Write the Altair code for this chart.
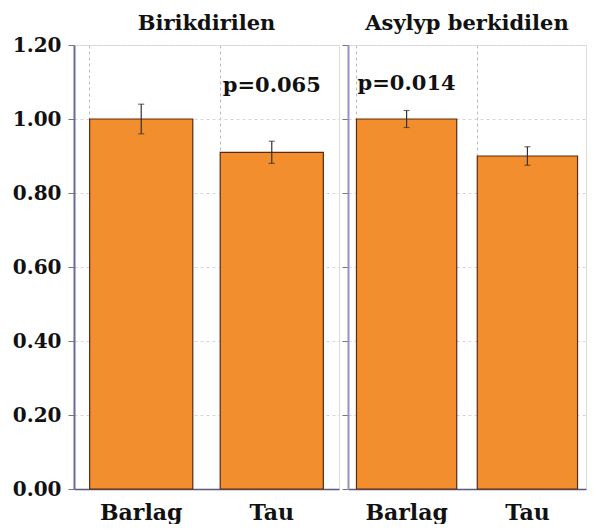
import altair as alt
import pandas as pd

groups = ["Birikdirilen", "Birikdirilen", "Asylyp berkidilen", "Asylyp berkidilen"]
categories = ["Barlag", "Tau", "Barlag", "Tau"]
values = [1.00, 0.91, 1.00, 0.90]
errors = [0.04, 0.03, 0.023, 0.025]

p_groups = ["Birikdirilen", "Asylyp berkidilen"]
p_cats = ["Tau", "Barlag"]
p_texts = ["p=0.065", "p=0.014"]
p_y = [1.09, 1.095]

df = pd.DataFrame({"group": groups, "cat": categories, "value": values, "err": errors})
df["lo"] = df["value"] - df["err"]
df["hi"] = df["value"] + df["err"]
pdf = pd.DataFrame({"group": p_groups, "cat": p_cats, "text": p_texts, "y": p_y})

FONT = "DejaVu Serif"
ORANGE = "#F28E2E"


def panel(g, show_labels, w, pi, po, title_offset):
    d = df[df["group"] == g]
    pd_ = pdf[pdf["group"] == g]
    xenc = alt.X("cat:N", sort=["Barlag", "Tau"],
                 scale=alt.Scale(paddingInner=pi, paddingOuter=po),
                 axis=alt.Axis(title=None, labelAngle=0, ticks=False, labelPadding=13,
                               labelFont=FONT, labelFontSize=22, labelFontWeight="bold",
                               labelColor="#111", domainColor="#5a5a80", domainWidth=1.5,
                               grid=True, bandPosition=0, gridDash=[3, 3],
                               gridColor="#b8b8c8"))
    yscale = alt.Scale(domain=[0, 1.2], nice=False)
    yaxis = alt.Axis(title=None, values=[0, 0.2, 0.4, 0.6, 0.8, 1.0, 1.2], format=".2f",
                     labels=show_labels, labelFont=FONT, labelFontSize=20,
                     labelFontWeight="bold", labelColor="#111", labelPadding=7,
                     ticks=True, tickSize=6, tickColor="#777",
                     domainColor="#6a6a9a" if show_labels else "#9a90d0",
                     domainWidth=2, gridDash=[3, 3], gridColor="#d4d4dc")
    bars = alt.Chart(d).mark_bar(color=ORANGE, stroke="#5a2a10", strokeWidth=1.2).encode(
        x=xenc, y=alt.Y("value:Q", scale=yscale, axis=yaxis))
    rule = alt.Chart(d).mark_rule(color="#333", strokeWidth=1.2).encode(
        x=alt.X("cat:N", sort=["Barlag", "Tau"]), y="lo:Q", y2="hi:Q")
    cap_lo = alt.Chart(d).mark_tick(color="#333", size=6, thickness=1.2, orient="horizontal").encode(
        x=alt.X("cat:N", sort=["Barlag", "Tau"]), y="lo:Q")
    cap_hi = alt.Chart(d).mark_tick(color="#333", size=6, thickness=1.2, orient="horizontal").encode(
        x=alt.X("cat:N", sort=["Barlag", "Tau"]), y="hi:Q")
    txt = alt.Chart(pd_).mark_text(font=FONT, fontSize=21, fontWeight="bold", color="#111").encode(
        x=alt.X("cat:N", sort=["Barlag", "Tau"]), y="y:Q", text="text:N")
    return alt.layer(bars, rule, cap_lo, cap_hi, txt).properties(
        width=w, height=444,
        title=alt.TitleParams(g, font=FONT, fontSize=21, fontWeight="bold",
                              color="#111", offset=title_offset))


chart = alt.hconcat(
    panel("Birikdirilen", True, 265, 0.21, 0.12, 1),
    panel("Asylyp berkidilen", False, 238, 0.17, 0.07, 11),
    spacing=1,
).configure_view(stroke="#c0c0c8", strokeWidth=1).configure(
    padding={"left": 3, "right": 0, "top": 4, "bottom": 0})

chart.save("out.html", embed_options={"renderer": "svg", "actions": False})
